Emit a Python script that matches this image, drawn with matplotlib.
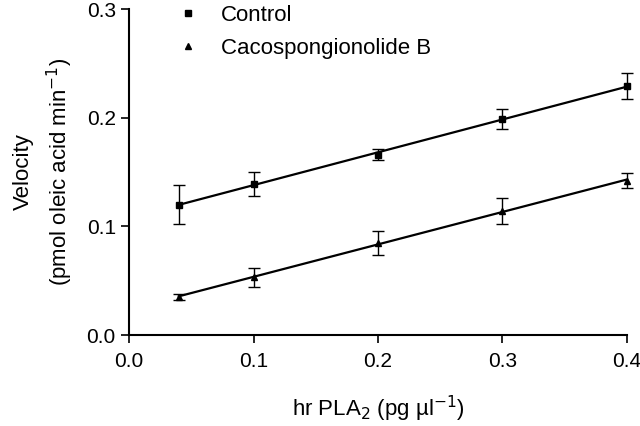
import numpy as np
import matplotlib
matplotlib.use("Agg")
import matplotlib.pyplot as plt
from matplotlib.lines import Line2D

plt.rcParams['font.family'] = ['Liberation Sans', 'DejaVu Sans']

# hr PLA2 concentration (pg/ul)
conc = [0.04, 0.1, 0.2, 0.3, 0.4]

control = [0.120, 0.139, 0.166, 0.199, 0.229]
control_err = [0.018, 0.011, 0.005, 0.009, 0.012]

caco = [0.035, 0.053, 0.085, 0.114, 0.142]
caco_err = [0.003, 0.009, 0.011, 0.012, 0.007]

fig = plt.figure(figsize=(6.4, 4.26), dpi=100)
ax = fig.add_axes([0.2016, 0.2136, 0.778, 0.765])

x = np.array(conc)
handles = []
for y, err, mk, lab in [(control, control_err, 's', 'Control'),
                        (caco, caco_err, '^', 'Cacospongionolide B')]:
    ax.errorbar(conc, y, yerr=err, fmt=mk, ms=5, color='black', ecolor='black',
                elinewidth=1, capsize=4, capthick=1, clip_on=False)
    slope, icpt = np.polyfit(x, y, 1)
    ax.plot(x, slope * x + icpt, color='black', lw=1.6)
    handles.append(Line2D([], [], ls='none', marker=mk, ms=4, color='black', label=lab))

ax.set_xlim(0.0, 0.4)
ax.set_ylim(0.0, 0.3)
ax.set_xticks([0.0, 0.1, 0.2, 0.3, 0.4])
ax.set_yticks([0.0, 0.1, 0.2, 0.3])
ax.xaxis.set_major_formatter(matplotlib.ticker.FormatStrFormatter('%.1f'))
ax.yaxis.set_major_formatter(matplotlib.ticker.FormatStrFormatter('%.1f'))
ax.tick_params(labelsize=15, length=6, width=1.2, direction='out')
ax.tick_params(axis='x', pad=6)
for s in ['top', 'right']:
    ax.spines[s].set_visible(False)
for s in ['left', 'bottom']:
    ax.spines[s].set_linewidth(1.5)

ax.set_xlabel('hr PLA$_2$ (pg \u00b5l$^{-1}$)', fontsize=16, labelpad=17)
ax.set_ylabel('Velocity\n(pmol oleic acid min$^{-1}$)', fontsize=16, labelpad=8,
              linespacing=1.5)

ax.legend(handles=handles, loc='upper left', bbox_to_anchor=(0.055, 1.075), frameon=False,
          fontsize=16, handletextpad=1.0, labelspacing=0.55, handlelength=1.0)

fig.savefig('out.png', dpi=100)
